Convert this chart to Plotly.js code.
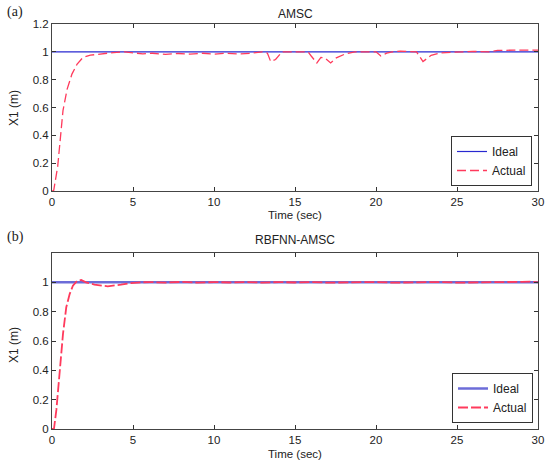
<!DOCTYPE html>
<html>
<head>
<meta charset="utf-8">
<script src="https://cdn.plot.ly/plotly-3.0.1.min.js"></script>
<style>html,body{margin:0;padding:0;background:#fff;}#chart{width:550px;height:464px;}</style>
</head>
<body>
<div id="chart"></div>
<script>
// ---- data ----
const idealT = [0, 30];
const idealY = [1, 1];

const amscT = [0,0.1,0.35,0.51,0.68,0.93,1.23,1.54,1.91,2.37,2.98,3.5,3.8,4.5,5.0,5.6,6.2,7.0,7.8,8.5,9.3,10.0,10.8,11.5,12.3,12.96,13.3,13.5,13.8,14.2,15.0,15.8,16.0,16.35,16.6,16.85,17.2,17.55,18.1,18.7,20.0,20.3,20.66,21.0,21.5,22.0,22.5,22.9,23.4,24.0,25.0,26.0,27.0,27.5,28.5,30];
const amscY = [0,0,0.175,0.39,0.58,0.73,0.84,0.91,0.96,0.976,0.986,0.99,0.995,1.0,0.995,0.985,0.99,0.982,0.988,0.984,0.99,0.983,0.99,0.985,0.99,1.0,0.99,0.93,0.945,1.0,1.0,1.0,0.97,0.92,0.96,0.955,0.92,0.957,0.985,1.0,1.0,0.97,0.99,1.0,1.005,1.0,1.0,0.93,0.975,0.993,1.0,1.003,1.0,1.01,1.012,1.012];

const rbfT = [0,0.12,0.27,0.47,0.68,0.88,1.09,1.29,1.56,1.8,2.1,2.62,3.44,4.26,4.88,5.5,6,7,8,9,10,11,12,13,14,15,16,17,18,19,20,21,22,23,24,25,26,27,28,29,29.5,30];
const rbfY = [0,0,0.13,0.40,0.65,0.83,0.92,0.977,1.011,1.016,1.0,0.984,0.973,0.984,0.995,1.0,1.002,0.998,1.003,0.998,1.002,0.999,1.002,0.998,1.002,0.999,1.002,0.998,1.001,0.999,1.002,0.998,1.001,0.999,1.002,0.998,1.001,0.999,1.002,1.003,1.005,1.0];

const xTicks = [0,5,10,15,20,25,30];
const yTicksTop = [0,0.2,0.4,0.6,0.8,1,1.2];
const yTicksBot = [0,0.2,0.4,0.6,0.8,1];

// ---- styles ----
const fontF = 'Liberation Sans, Arial, sans-serif';
const red = '#ff3a5c';

const traces = [
  {x: idealT, y: idealY, xaxis:'x', yaxis:'y', mode:'lines', name:'Ideal', legend:'legend',
   line:{color:'#2828d0', width:1.2}},
  {x: amscT, y: amscY, xaxis:'x', yaxis:'y', mode:'lines', name:'Actual', legend:'legend',
   line:{color:red, width:1.3, dash:'9px,4px'}},
  {x: idealT, y: idealY, xaxis:'x2', yaxis:'y2', mode:'lines', name:'Ideal', legend:'legend2',
   line:{color:'#6c6cd8', width:2.5}},
  {x: rbfT, y: rbfY, xaxis:'x2', yaxis:'y2', mode:'lines', name:'Actual', legend:'legend2',
   line:{color:red, width:1.8, dash:'10px,3px'}}
];

function xax(anchor){
  return {domain:[52/550, 538/550], range:[0,30], anchor:anchor, tickvals:xTicks,
    ticks:'inside', ticklen:4, tickcolor:'#333', showline:true, mirror:'ticks', linecolor:'#444', linewidth:1,
    showgrid:false, zeroline:false, tickfont:{family:fontF, size:11.5, color:'#222'}};
}
function yax(anchor, dom, tv){
  return {domain:dom, range:[0,1.2], anchor:anchor, tickvals:tv,
    ticks:'inside', ticklen:4, tickcolor:'#333', showline:true, mirror:'ticks', linecolor:'#444', linewidth:1,
    showgrid:false, zeroline:false, tickfont:{family:fontF, size:11.5, color:'#222'}};
}

const ann = (text, x, y, size, extra) => Object.assign({text:text, x:x, y:y, xref:'paper', yref:'paper',
  showarrow:false, xanchor:'center', yanchor:'middle', font:{family:fontF, size:size, color:'#222'}}, extra||{});

const legBase = {xanchor:'left', yanchor:'bottom', bgcolor:'#fff', bordercolor:'#333', borderwidth:1,
  font:{family:fontF, size:12, color:'#222'}, tracegroupgap:0, itemwidth:30};

const layout = {
  width:550, height:464, margin:{l:0,r:0,t:0,b:0},
  paper_bgcolor:'#fff', plot_bgcolor:'#fff', showlegend:true,
  xaxis: xax('y'),
  yaxis: yax('x', [1-191/464, 1-24/464], yTicksTop),
  xaxis2: xax('y2'),
  yaxis2: yax('x2', [1-429/464, 1-253/464], yTicksBot),
  legend: Object.assign({x:451/550, y:1-186/464}, legBase),
  legend2: Object.assign({x:452/550, y:1-423/464}, legBase),
  annotations: [
    ann('(a)', 15/550, 1-12/464, 14, {font:{family:'Liberation Serif, Times New Roman, serif', size:14, color:'#222'}}),
    ann('(b)', 15/550, 1-237/464, 14, {font:{family:'Liberation Serif, Times New Roman, serif', size:14, color:'#222'}}),
    ann('AMSC', 295/550, 1-14/464, 12),
    ann('RBFNN-AMSC', 295/550, 1-240/464, 12),
    ann('Time (sec)', 295/550, 1-215/464, 11.5),
    ann('Time (sec)', 295/550, 1-454/464, 11.5),
    ann('X1 (m)', 14/550, 1-108/464, 12, {textangle:-90}),
    ann('X1 (m)', 14/550, 1-345/464, 12, {textangle:-90})
  ]
};

Plotly.newPlot('chart', traces, layout, {displayModeBar:false, staticPlot:true});
</script>
</body>
</html>
